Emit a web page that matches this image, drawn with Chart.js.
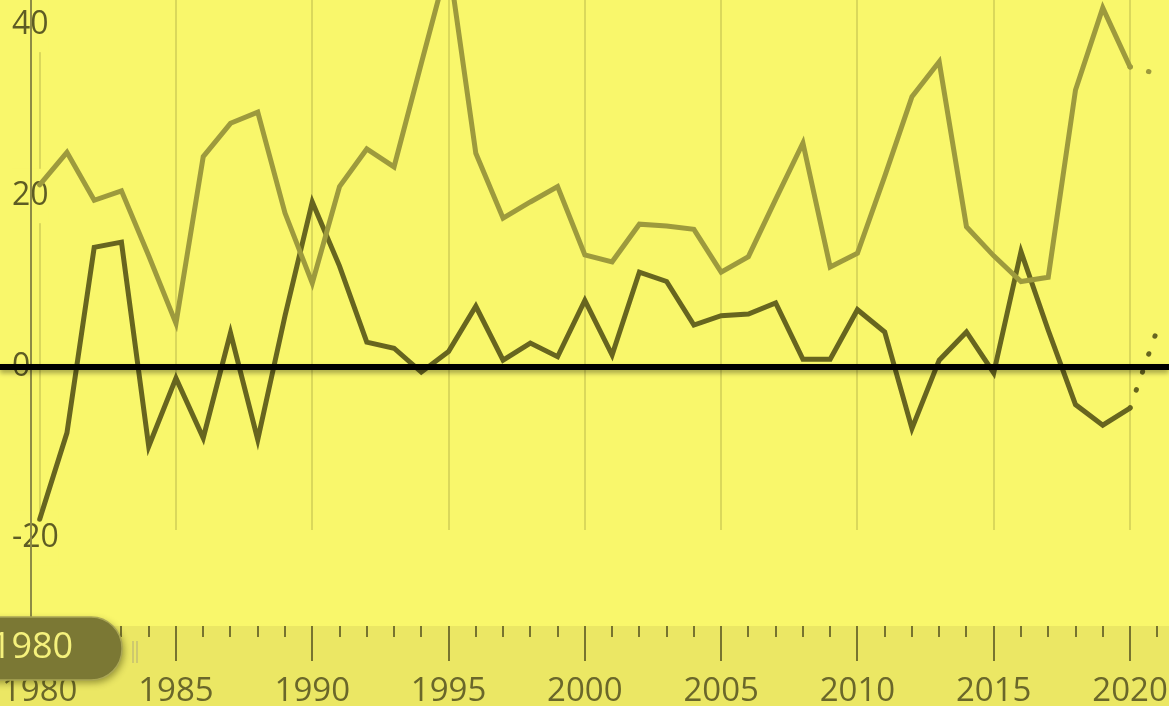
<!DOCTYPE html>
<html>
<head>
<meta charset="utf-8">
<script src="https://cdn.jsdelivr.net/npm/chart.js@4.4.1/dist/chart.umd.min.js"></script>
<style>
  html, body { margin: 0; padding: 0; background: #f9f76b; overflow: hidden; }
  #wrap { position: relative; width: 1169px; height: 706px; }
</style>
</head>
<body>
<div id="wrap"><canvas id="trend-chart"></canvas></div>
<script>
// ===== DATA =====
const years = [
  1980, 1981, 1982, 1983, 1984, 1985, 1986, 1987, 1988, 1989,
  1990, 1991, 1992, 1993, 1994, 1995, 1996, 1997, 1998, 1999,
  2000, 2001, 2002, 2003, 2004, 2005, 2006, 2007, 2008, 2009,
  2010, 2011, 2012, 2013, 2014, 2015, 2016, 2017, 2018, 2019,
  2020, 2021
];
const lightSeries = [
  21.3, 25.1, 19.5, 20.6, 13.0, 5.1, 24.6, 28.5, 29.8, 18.0,
  9.8, 21.1, 25.5, 23.4, 35.5, 47.5, 25.0, 17.4, 19.3, 21.1,
  13.1, 12.3, 16.7, 16.5, 16.1, 11.1, 12.9, 19.6, 26.2, 11.7,
  13.3, 22.3, 31.6, 35.7, 16.4, 13.0, 10.0, 10.5, 32.4, 42.0,
  35.1, 34.3
];
const darkSeries = [
  -17.8, -7.7, 14.0, 14.6, -9.3, -1.3, -8.3, 4.0, -8.5, 6.0,
  19.3, 11.8, 2.9, 2.2, -0.6, 1.8, 7.1, 0.8, 2.8, 1.2,
  7.8, 1.4, 11.1, 10.0, 4.9, 6.0, 6.2, 7.5, 0.9, 0.9,
  6.7, 4.1, -7.2, 0.8, 4.1, -0.7, 13.5, 4.3, -4.4, -6.8,
  -4.8, 4.4
];
const lastMeasuredYear = 2020;   // after this the line is dotted
const selectedYear = years[0];   // year shown in the slider pill
const yTickStep = 20;
const xMajorStep = 5;
const xMinorStep = 1;

// ===== STYLE =====
const BG = '#f9f76b';
const BAND = '#ebe764';
const GRID = 'rgba(140, 135, 50, 0.28)';
const LABEL = '#5e5c24';
const TICK = '#77742f';
const FONT = "'Open Sans', 'Noto Sans', sans-serif";

const X_MIN = 1978.544, X_MAX = 2021.43;
const Y_MIN = -30.29, Y_MAX = 42.92;

const toPoints = (vals) => years.map((yr, i) => ({ x: yr, y: vals[i] }));
const dotted = (ctx) => (ctx.p0.parsed.x >= lastMeasuredYear ? [0.5, 18.5] : undefined);

// keep the plot area flush with the canvas edges
const noPad = (s) => { s.paddingTop = 0; s.paddingBottom = 0; s.paddingLeft = 0; s.paddingRight = 0; };

// gridlines, zero line, slider pill
const timelinePlugin = {
    id: 'timeline',
    beforeDraw(chart) {
        const { ctx, chartArea, scales: { x } } = chart;
        ctx.save();
        ctx.fillStyle = BAND;
        ctx.fillRect(0, chartArea.bottom, chart.width, chart.height - chartArea.bottom);

        // vertical gridlines stop short of the slider
        ctx.strokeStyle = GRID;
        ctx.lineWidth = 2;
        x.ticks.forEach(t => {
            const px = Math.round(x.getPixelForValue(t.value));
            ctx.beginPath();
            ctx.moveTo(px, chartArea.top);
            ctx.lineTo(px, chartArea.top + 530);
            ctx.stroke();
        });
        ctx.restore();
    },
    afterDraw(chart) {
        const { ctx, chartArea, scales: { y } } = chart;
        ctx.save();
        // left rule
        ctx.strokeStyle = '#8e8b45';
        ctx.lineWidth = 2;
        ctx.beginPath();
        ctx.moveTo(chartArea.left + 31, chartArea.top);
        ctx.lineTo(chartArea.left + 31, chartArea.bottom);
        ctx.stroke();

        // zero line
        const y0 = Math.round(y.getPixelForValue(0));
        ctx.save();
        ctx.shadowColor = 'rgba(0, 0, 0, 0.35)';
        ctx.shadowBlur = 5;
        ctx.shadowOffsetY = 3;
        ctx.strokeStyle = '#000';
        ctx.lineWidth = 6;
        ctx.beginPath();
        ctx.moveTo(0, y0);
        ctx.lineTo(chart.width, y0);
        ctx.stroke();
        ctx.restore();

        const top = chartArea.bottom - 9;
        // grip
        ctx.strokeStyle = '#c4bf72';
        ctx.lineWidth = 1.5;
        [133, 137].forEach(gx => {
            ctx.beginPath();
            ctx.moveTo(gx, top + 24);
            ctx.lineTo(gx, top + 46);
            ctx.stroke();
        });
        // pill
        ctx.shadowColor = 'rgba(50, 50, 0, 0.45)';
        ctx.shadowBlur = 7;
        ctx.shadowOffsetX = 2;
        ctx.shadowOffsetY = 3;
        ctx.fillStyle = '#7b7834';
        ctx.beginPath();
        ctx.roundRect(-40, top, 162, 63, 31);
        ctx.fill();
        ctx.shadowColor = 'transparent';
        ctx.strokeStyle = '#aaa655';
        ctx.lineWidth = 1.5;
        ctx.stroke();
        ctx.fillStyle = '#f5f17c';
        ctx.font = '36px ' + FONT;
        ctx.textAlign = 'center';
        ctx.textBaseline = 'middle';
        ctx.fillText(String(selectedYear), 32, top + 31);
        ctx.restore();
    }
};

let trendChart = new Chart(document.getElementById('trend-chart'), {
    type: 'line',
    data: {
        datasets: [
            {
                label: 'light',
                data: toPoints(lightSeries),
                borderColor: '#9d9a3d',
                borderWidth: 5,
                borderCapStyle: 'round',
                pointRadius: 0,
                tension: 0,
                segment: { borderDash: dotted }
            },
            {
                label: 'dark',
                data: toPoints(darkSeries),
                borderColor: '#67651f',
                borderWidth: 5,
                borderCapStyle: 'round',
                pointRadius: 0,
                tension: 0,
                segment: { borderDash: dotted }
            }
        ]
    },
    options: {
        responsive: true,
        maintainAspectRatio: false,
        animation: false,
        layout: { padding: 0 },
        plugins: {
            legend: { display: false },
            tooltip: { enabled: false }
        },
        scales: {
            minor: {
                type: 'linear',
                position: 'bottom',
                weight: 0,
                min: X_MIN,
                max: X_MAX,
                afterFit: (s) => { s.height = 0; noPad(s); },
                border: { display: false },
                grid: { drawOnChartArea: false, drawTicks: true, tickLength: 11, color: TICK, lineWidth: 2 },
                ticks: { display: false, stepSize: xMinorStep, includeBounds: false, autoSkip: false }
            },
            x: {
                type: 'linear',
                position: 'bottom',
                weight: 1,
                min: X_MIN,
                max: X_MAX,
                afterFit: (s) => { s.height = 80; noPad(s); },
                border: { display: false },
                grid: { drawOnChartArea: false, drawTicks: true, tickLength: 35, color: TICK, lineWidth: 2 },
                ticks: {
                    stepSize: xMajorStep,
                    includeBounds: false,
                    autoSkip: false,
                    maxRotation: 0,
                    padding: 11,
                    color: '#6a672a',
                    font: { family: FONT, size: 33 },
                    callback: (v) => String(v)
                }
            },
            y: {
                type: 'linear',
                z: 1,   // labels sit above the lines
                min: Y_MIN,
                max: Y_MAX,
                afterFit: (s) => { s.width = 0; noPad(s); },
                border: { display: false },
                grid: { display: false, drawTicks: false },
                ticks: {
                    stepSize: yTickStep,
                    includeBounds: false,
                    mirror: true,
                    padding: 12,
                    color: LABEL,
                    font: { family: FONT, size: 32 },
                    showLabelBackdrop: true,
                    backdropColor: BG,
                    backdropPadding: { top: 8, bottom: 8, left: 0, right: 0 }
                }
            }
        }
    },
    plugins: [timelinePlugin]
});

window.trendChart = trendChart;
</script>
</body>
</html>
